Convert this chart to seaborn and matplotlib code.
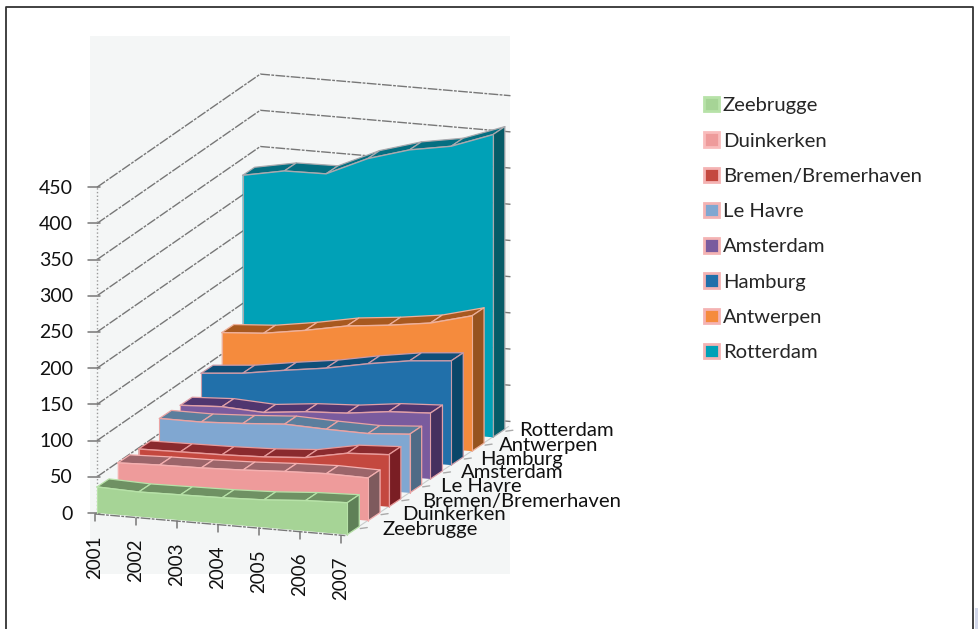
import numpy as np
import pandas as pd
import matplotlib
matplotlib.use('Agg')
import matplotlib.pyplot as plt
from matplotlib.patches import Patch, Rectangle
import seaborn as sns

years = [2001, 2002, 2003, 2004, 2005, 2006, 2007]
ports = ['Zeebrugge', 'Duinkerken', 'Bremen/Bremerhaven', 'Le Havre',
         'Amsterdam', 'Hamburg', 'Antwerpen', 'Rotterdam']
y_ticks = [0, 50, 100, 150, 200, 250, 300, 350, 400, 450]

zeebrugge = [36, 34, 35, 36, 38, 42, 44]
duinkerken = [50, 52, 53, 55, 58, 60, 59]
bremen = [50, 51, 52, 54, 58, 69, 72]
le_havre = [73, 73, 76, 80, 78, 77, 81]
amsterdam = [72, 75, 72, 78, 81, 88, 91]
hamburg = [97, 102, 111, 119, 130, 139, 144]
antwerpen = [134, 138, 147, 158, 164, 172, 187]
rotterdam = [332, 343, 344, 370, 387, 397, 418]
values = [zeebrugge, duinkerken, bremen, le_havre, amsterdam, hamburg, antwerpen, rotterdam]

# front, top and side colour per port
front_cols = ['#a6d496', '#ee9b9b', '#c4483f', '#80a7d1', '#7a5b9e', '#2170aa', '#f58b3d', '#00a1b7']
top_cols = ['#6f9163', '#9c656a', '#8a2a2e', '#5b7e9d', '#50366f', '#0f4f79', '#a8591f', '#046f81']
side_cols = ['#5f8057', '#7e5a5d', '#7a1e24', '#4f6b86', '#45305f', '#0a4669', '#96531f', '#055b67']
edge_cols = ['#b7e2a8', '#f4b0b0', '#e89a9a', '#eaa3a3', '#e0a0a8', '#c99aa8', '#eeb09a', '#a9a9ae']
legend_edges = ['#b7e2a8', '#f9bcbc', '#f4b3b3', '#f4b3b3', '#f4b3b3', '#f4b3b3', '#f4b3b3', '#f4b3b3']

sns.set_theme(style='white')
plt.rcParams['font.family'] = ['Lato', 'DejaVu Sans']

fig = plt.figure(figsize=(9.79, 6.29), dpi=100)
ax = fig.add_axes([0, 0, 1, 1])
ax.set_xlim(0, 979)
ax.set_ylim(629, 0)
ax.axis('off')

# oblique projection of (year index, value, port depth) to picture position
def proj(t, v, d):
    px = 97 + 41.7 * np.asarray(t) + 20.8 * np.asarray(d)
    py = 513 + 3.6 * np.asarray(t) - 13.9 * np.asarray(d) - 0.724 * np.asarray(v)
    return px, py

def poly(corners, color, edge, z):
    pts = [proj(*c) for c in corners]
    ax.fill([p[0] for p in pts], [p[1] for p in pts], facecolor=color,
            edgecolor=edge, linewidth=0.9, zorder=z, joinstyle='round')

# outer frame and wall panel
ax.plot([6, 6, 973, 973], [629, 6.5, 6.5, 629], color='#333333', lw=1.3, zorder=1)
ax.add_patch(Rectangle((975, 608), 4, 21, facecolor='#d3d8ea', edgecolor='none', zorder=1))
ax.add_patch(Rectangle((90, 36), 420, 538, facecolor='#f4f6f6', edgecolor='none', zorder=1))

n_t = len(years) - 1
n_d = len(ports) - 0.15
grid_col = '#777777'
for v in y_ticks:
    xs, ys = proj([0, 0, n_t], [v, v, v], [0, n_d, n_d])
    # back wall sits a few pixels above the plain depth offset
    ys = ys - np.array([0, 4, 4])
    ax.plot(xs, ys, color=grid_col, lw=1.0, ls=(0, (7, 1, 2, 1)), zorder=2)
    # tick and label on the left
    x0, y0 = proj(0, v, 0)
    ax.plot([x0 - 9, x0 + 3], [y0, y0], color=grid_col, lw=1.1, zorder=3)
    ax.text(73, y0 + 1, str(v), ha='right', va='center', fontsize=14, color='#111111', zorder=6)

# dotted value axis
x0, y0 = proj(0, 0, 0)
x1, y1 = proj(0, y_ticks[-1], 0)
ax.plot([x0, x1], [y0, y1], color='#999999', lw=1.0, ls=':', zorder=3)

# floor axes
xs, ys = proj([0, n_t], [0, 0], [0, 0])
ax.plot(xs - 2, ys + 1, color=grid_col, lw=1.0, ls=(0, (7, 1, 2, 1)), zorder=3)
xs, ys = proj([n_t, n_t], [0, 0], [0, n_d])
ax.plot(xs - 2, ys + 1, color='#c9cccc', lw=0.8, zorder=3)

depth = 0.58
for d in range(len(ports) - 1, -1, -1):
    vals = values[d]
    z = 10 + (len(ports) - d) * 3
    # top faces per year
    for t in range(n_t):
        poly([(t, vals[t], d), (t + 1, vals[t + 1], d),
              (t + 1, vals[t + 1], d + depth), (t, vals[t], d + depth)],
             top_cols[d], edge_cols[d], z)
    # side at 2007
    poly([(n_t, 0, d), (n_t, vals[-1], d), (n_t, vals[-1], d + depth), (n_t, 0, d + depth)],
         side_cols[d], edge_cols[d], z)
    # front face
    tt = np.arange(len(years))
    px, py = proj(tt, vals, d)
    bx, by = proj(tt, 0, d)
    ax.fill(np.r_[px, bx[::-1]], np.r_[py, by[::-1]], color=front_cols[d], lw=0, zorder=z + 1)
    edge_df = pd.DataFrame({'px': px, 'py': py})
    sns.lineplot(data=edge_df, x='px', y='py', sort=False, estimator=None, color=edge_cols[d],
                 lw=1.0, ax=ax, zorder=z + 2, legend=False)
    ax.plot([px[0], bx[0]], [py[0], by[0]], color=edge_cols[d], lw=0.8, zorder=z + 2)
    ax.plot([px[-1], bx[-1]], [py[-1], by[-1]], color=edge_cols[d], lw=0.8, zorder=z + 2)
    # depth tick
    tx, ty = proj(n_t, 0, d + depth)
    ax.plot([tx + 1, tx + 8], [ty + 2, ty + 1], color='#aaaaaa', lw=1.0, zorder=4)
    # depth label
    ax.text(383 + 19.4 * d, 529 - 14 * d, ports[d], ha='left', va='center', fontsize=14.6,
            color='#111111', zorder=60)

# year ticks and labels
for t, yr in enumerate(years):
    tx, ty = proj(t, 0, 0)
    tx = tx - 2 - 0.7 * t
    ax.plot([tx, tx], [ty + 1, ty + 8], color=grid_col, lw=1.1, zorder=5)
    ax.text(tx, ty + 22, str(yr), rotation=90, ha='center', va='top', fontsize=13.5,
            color='#111111', zorder=60)

handles = [Patch(facecolor=c, edgecolor=e, linewidth=2.0) for c, e in zip(front_cols, legend_edges)]
leg = ax.legend(handles, ports, loc='upper left', bbox_to_anchor=(704 / 979, 1 - 97 / 629),
                frameon=False, fontsize=14.6, handlelength=0.72, handleheight=0.72,
                handletextpad=0.2, labelspacing=0.885, borderpad=0, borderaxespad=0)
leg.set_zorder(60)

plt.savefig('out.png', dpi=100)
